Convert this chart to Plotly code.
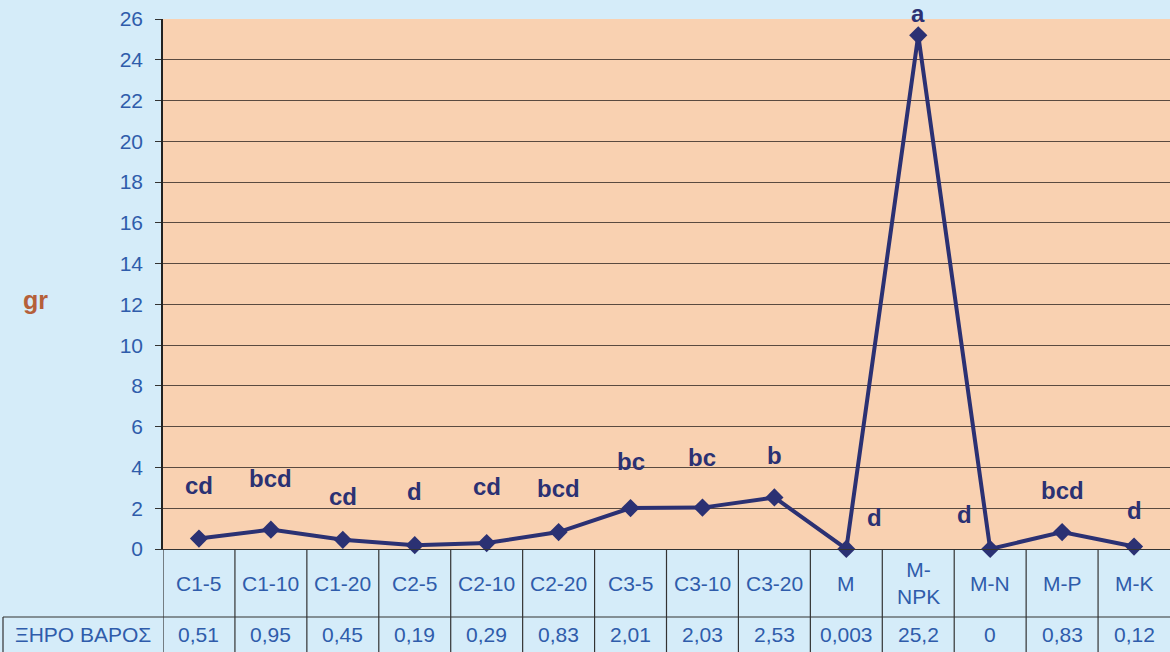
import plotly.graph_objects as go

categories = ["C1-5", "C1-10", "C1-20", "C2-5", "C2-10", "C2-20", "C3-5", "C3-10",
              "C3-20", "M", "M-NPK", "M-N", "M-P", "M-K"]
cat_labels = ["C1-5", "C1-10", "C1-20", "C2-5", "C2-10", "C2-20", "C3-5", "C3-10",
              "C3-20", "M", "M-<br>NPK", "M-N", "M-P", "M-K"]
values = [0.51, 0.95, 0.45, 0.19, 0.29, 0.83, 2.01, 2.03, 2.53, 0.003, 25.2, 0, 0.83, 0.12]
value_labels = ["0,51", "0,95", "0,45", "0,19", "0,29", "0,83", "2,01", "2,03", "2,53",
                "0,003", "25,2", "0", "0,83", "0,12"]
letters = ["cd", "bcd", "cd", "d", "cd", "bcd", "bc", "bc", "b", "d", "a", "d", "bcd", "d"]
row_label = "ΞΗΡΟ ΒΑΡΟΣ"
y_title = "gr"

# styling offsets for letter labels (pixels)
letter_yshift = [53, 51, 43, 54, 57, 44, 47, 50, 42, 31, 22, 35, 42, 36]
letter_xshift = [0, 0, 0, 0, 0, 0, 0, 0, 0, 28, 0, -26, 0, 0]

NAVY = "#2b3173"
BLUE_TXT = "#2f5cab"
BG = "#d5ecf9"
PLOT_BG = "#f9d1b1"
FONT = "Liberation Sans, Arial"

W, H = 1170, 652
L, R, T, B = 163, 0, 19, 103
H_PLOT = H - T - B
W_PLOT = W - L - R

x_idx = list(range(len(categories)))

fig = go.Figure()
fig.add_trace(go.Scatter(
    x=x_idx, y=values, mode="lines+markers",
    line=dict(color=NAVY, width=4),
    marker=dict(symbol="diamond", size=14, color=NAVY),
    cliponaxis=False, showlegend=False, hoverinfo="skip",
))

row1 = -68 / H_PLOT
row2 = -103 / H_PLOT
left_cell = (3 - L) / W_PLOT

shapes = []
for k in range(len(categories)):
    shapes.append(dict(type="line", xref="x", yref="paper", x0=k - 0.5, x1=k - 0.5,
                       y0=0, y1=row2, line=dict(color="#333", width=1.2)))
shapes.append(dict(type="line", xref="paper", yref="paper", x0=left_cell, x1=1,
                   y0=row1, y1=row1, line=dict(color="#333", width=1.2)))
shapes.append(dict(type="line", xref="paper", yref="paper", x0=left_cell, x1=left_cell,
                   y0=row1, y1=row2, line=dict(color="#333", width=1.2)))

ann = []
for i, (lab, v) in enumerate(zip(letters, values)):
    ann.append(dict(x=i, y=v, xref="x", yref="y", text=f"<b>{lab}</b>", showarrow=False,
                    xanchor="center", yanchor="middle",
                    yshift=letter_yshift[i], xshift=letter_xshift[i],
                    font=dict(family=FONT, size=24, color=NAVY)))
for i, lab in enumerate(cat_labels):
    ann.append(dict(x=i, y=row1 / 2, xref="x", yref="paper", text=lab, showarrow=False,
                    xanchor="center", yanchor="middle",
                    font=dict(family=FONT, size=21, color=BLUE_TXT)))
for i, lab in enumerate(value_labels):
    ann.append(dict(x=i, y=(row1 + row2) / 2, xref="x", yref="paper", text=lab,
                    showarrow=False, xanchor="center", yanchor="middle",
                    font=dict(family=FONT, size=21, color=BLUE_TXT)))
ann.append(dict(x=left_cell / 2, y=(row1 + row2) / 2, xref="paper", yref="paper",
                text=row_label, showarrow=False, xanchor="center", yanchor="middle",
                font=dict(family=FONT, size=21, color=BLUE_TXT)))
ann.append(dict(x=(35 - L) / W_PLOT, y=(549 - 300) / H_PLOT, xref="paper", yref="paper",
                text=f"<b>{y_title}</b>", showarrow=False, xanchor="center",
                yanchor="middle", font=dict(family=FONT, size=25, color="#b5603a")))

fig.update_layout(
    width=W, height=H,
    margin=dict(l=L, r=R, t=T, b=B),
    paper_bgcolor=BG, plot_bgcolor=PLOT_BG,
    xaxis=dict(range=[-0.5, len(categories) - 0.5], showgrid=False, zeroline=False,
               showticklabels=False, ticks="", showline=True, linecolor="#333",
               linewidth=1.2, fixedrange=True),
    yaxis=dict(range=[0, 26], dtick=2, showgrid=True, gridcolor="#5a4a40", gridwidth=1,
               zeroline=False, showline=True, linecolor="#222", linewidth=1.5,
               ticks="outside", ticklen=6, tickcolor="#333", ticklabelstandoff=8,
               tickfont=dict(family=FONT, size=21, color=BLUE_TXT)),
    shapes=shapes, annotations=ann,
)

fig.write_html("out.html", config={"displayModeBar": False},
               post_script="document.body.style.margin='0';document.body.style.overflow='hidden';")
